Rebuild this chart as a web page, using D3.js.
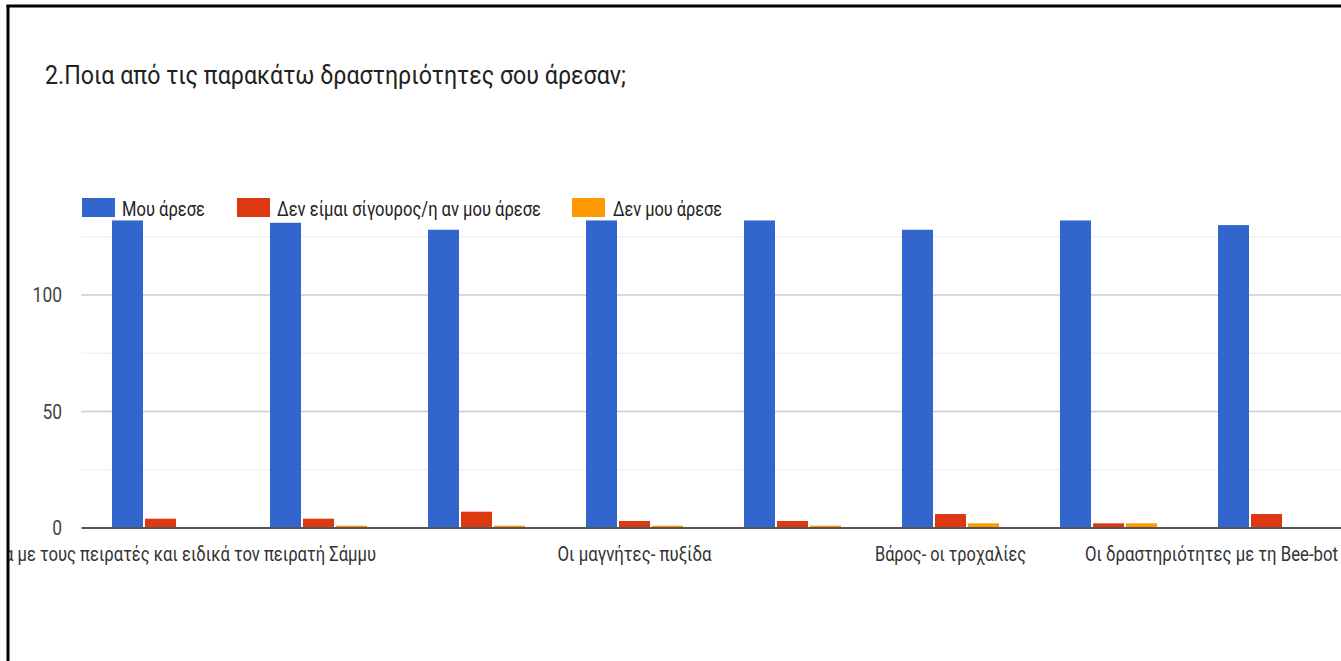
<!DOCTYPE html>
<html>
<head>
<meta charset="utf-8">
<script src="https://cdn.jsdelivr.net/npm/d3@7"></script>
<style>
  html, body { margin: 0; padding: 0; background: #fff; }
  svg { display: block; }
  text { font-family: Roboto, "Noto Sans", "DejaVu Sans", sans-serif; }
</style>
</head>
<body>
<svg id="chart" width="1341" height="661"></svg>
<script>
// ---- data ----
const title = "2.Ποια από τις παρακάτω δραστηριότητες σου άρεσαν;";
const categories = ["Δ1", "Δ2", "Δ3", "Δ4", "Δ5", "Δ6", "Δ7", "Δ8"];
const tickLabels = ["", "α με τους πειρατές και ειδικά τον πειρατή Σάμμυ", "", "Οι μαγνήτες- πυξίδα", "", "Βάρος- οι τροχαλίες", "", "Οι δραστηριότητες με τη Bee-bot"];
const seriesNames = ["Μου άρεσε", "Δεν είμαι σίγουρος/η αν μου άρεσε", "Δεν μου άρεσε"];
const liked    = [132, 131, 128, 132, 132, 128, 132, 130];
const notSure  = [4, 4, 7, 3, 3, 6, 2, 6];
const disliked = [0, 1, 1, 1, 1, 2, 2, 0];
const yTicks = [0, 50, 100];
const yGrid = [0, 25, 50, 75, 100, 125];

// ---- styles / layout ----
const colors = ["#3366cc", "#dc3912", "#ff9900"];
const svg = d3.select("#chart");
const W = 1341, H = 661;
const plot = { left: 81.5, right: 1345.5, base: 528, y100: 295 };

const series = [liked, notSure, disliked];
const rows = categories.map((c, i) => ({ cat: c, vals: series.map(s => s[i]) }));

const x0 = d3.scaleBand().domain(categories).range([plot.left, plot.right])
  .paddingInner(0.386).paddingOuter(0.193);
const x1 = d3.scaleBand().domain(seriesNames).range([0, x0.bandwidth()])
  .paddingInner(0.0606).paddingOuter(0);
const y = d3.scaleLinear().domain([0, 100]).range([plot.base, plot.y100]);

svg.append("rect").attr("width", W).attr("height", H).attr("fill", "#fff");

// gridlines
svg.append("g").selectAll("line").data(yGrid.filter(v => v !== 0)).join("line")
  .attr("x1", plot.left).attr("x2", W)
  .attr("y1", d => y(d)).attr("y2", d => y(d))
  .attr("stroke", d => d % 50 === 0 ? "#cccccc" : "#ebebeb")
  .attr("stroke-width", d => d % 50 === 0 ? 1.5 : 1.2);

// y axis labels
svg.append("g").selectAll("text").data(yTicks).join("text")
  .attr("x", 62).attr("y", d => y(d)).attr("dy", "0.36em")
  .attr("text-anchor", "end").attr("fill", "#444").attr("font-size", 20)
  .attr("textLength", d => String(d).length * 9.8).attr("lengthAdjust", "spacingAndGlyphs")
  .text(d => d);

// bars
const groups = svg.append("g").selectAll("g").data(rows).join("g")
  .attr("transform", d => `translate(${x0(d.cat)},0)`);
groups.selectAll("rect").data(d => d.vals.map((v, k) => ({ v, k }))).join("rect")
  .attr("x", d => x1(seriesNames[d.k]))
  .attr("width", x1.bandwidth())
  .attr("y", d => y(d.v))
  .attr("height", d => plot.base - y(d.v))
  .attr("fill", d => colors[d.k]);

// baseline
svg.append("line").attr("x1", plot.left).attr("x2", W)
  .attr("y1", plot.base).attr("y2", plot.base)
  .attr("stroke", "#555").attr("stroke-width", 2);

// x labels (every other category shown)
const labelLayout = [
  null,
  { anchor: "end", dx: 0.364, len: 372 },
  null,
  { anchor: "middle", dx: 0, len: 154 },
  null,
  { anchor: "middle", dx: 0, len: 151 },
  null,
  { anchor: "start", dx: -1.149, len: 253 }
];
svg.append("clipPath").attr("id", "inner").append("rect")
  .attr("x", 9).attr("y", 7).attr("width", W).attr("height", H);
const step = x0.step();
svg.append("g").attr("clip-path", "url(#inner)").selectAll("text")
  .data(categories.map((c, i) => ({ c, i, t: tickLabels[i], L: labelLayout[i] })).filter(d => d.t && d.L))
  .join("text")
  .attr("x", d => x0(d.c) + x0.bandwidth() / 2 + d.L.dx * step)
  .attr("y", 561)
  .attr("text-anchor", d => d.L.anchor)
  .attr("fill", "#333").attr("font-size", 20)
  .attr("textLength", d => d.L.len).attr("lengthAdjust", "spacingAndGlyphs")
  .text(d => d.t);

// legend
const legendItems = [
  { name: seriesNames[0], sx: 82, tx: 122, len: 83 },
  { name: seriesNames[1], sx: 237, tx: 277, len: 264 },
  { name: seriesNames[2], sx: 572, tx: 613, len: 109 }
];
const lg = svg.append("g");
lg.selectAll("rect").data(legendItems).join("rect")
  .attr("x", d => d.sx).attr("y", 198).attr("width", 33).attr("height", 19)
  .attr("fill", (d, i) => colors[i]);
lg.selectAll("text").data(legendItems).join("text")
  .attr("x", d => d.tx).attr("y", 216)
  .attr("fill", "#222").attr("font-size", 20)
  .attr("textLength", d => d.len).attr("lengthAdjust", "spacingAndGlyphs")
  .text(d => d.name);

// title
svg.append("text").attr("x", 45).attr("y", 84)
  .attr("fill", "#212121").attr("font-size", 25)
  .attr("textLength", 581).attr("lengthAdjust", "spacingAndGlyphs")
  .text(title);

// frame (screenshot border)
svg.append("line").attr("x1", 8).attr("x2", 8).attr("y1", 5).attr("y2", H)
  .attr("stroke", "#000").attr("stroke-width", 3);
svg.append("line").attr("x1", 6.5).attr("x2", W).attr("y1", 6).attr("y2", 6)
  .attr("stroke", "#000").attr("stroke-width", 3);
</script>
</body>
</html>
